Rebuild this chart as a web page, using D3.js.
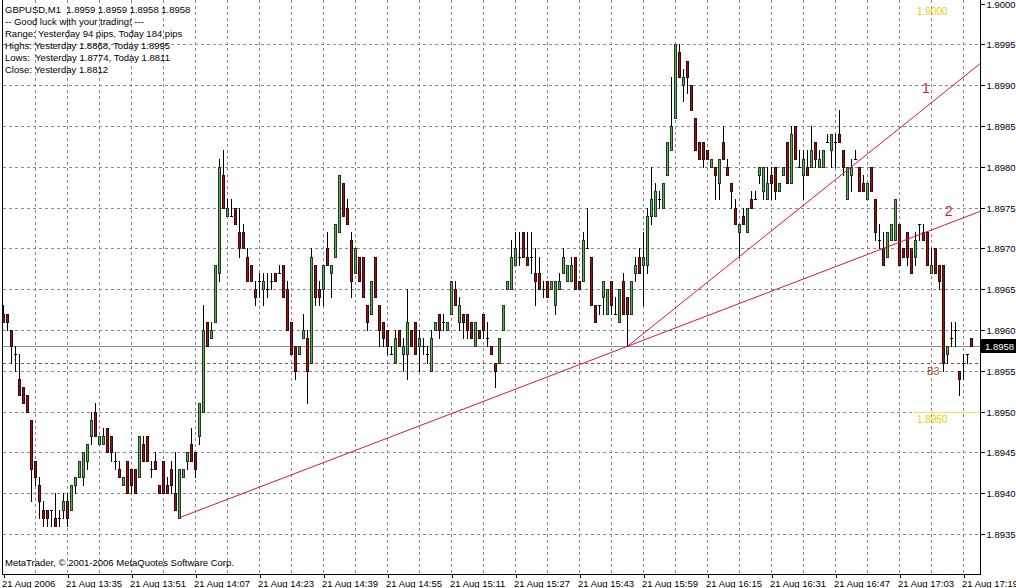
<!DOCTYPE html>
<html>

<head>
    <meta charset="UTF-8">
    <title>GBPUSD,M1</title>
    <script type="text/javascript" src="https://d3js.org/d3.v7.min.js"></script>
    <style>
        body { margin: 0; background: #fff; }
        svg { display: block; font-family: "Liberation Sans", Arial, sans-serif; }
    </style>
</head>

<body>
    <svg id="chart"></svg>

    <script type="text/javascript">
        // ---- data: one row per 1-minute bar, [open, high, low, close] ----
        const candles = [
            [1.8962, 1.8963, 1.8961, 1.8961], [1.8962, 1.8962, 1.8960, 1.8961], [1.8960, 1.8960, 1.8956, 1.8958], [1.8957, 1.8958, 1.8955, 1.8957],
            [1.8954, 1.8957, 1.8952, 1.8952], [1.8953, 1.8953, 1.8951, 1.8951], [1.8952, 1.8952, 1.8950, 1.8950], [1.8949, 1.8949, 1.8939, 1.8943],
            [1.8944, 1.8944, 1.8941, 1.8942], [1.8941, 1.8942, 1.8937, 1.8939], [1.8938, 1.8939, 1.8936, 1.8937], [1.8938, 1.8938, 1.8936, 1.8937],
            [1.8938, 1.8938, 1.8936, 1.8938], [1.8937, 1.8940, 1.8936, 1.8936], [1.8937, 1.8938, 1.8936, 1.8937], [1.8938, 1.8940, 1.8937, 1.8939],
            [1.8939, 1.8940, 1.8936, 1.8937], [1.8938, 1.8941, 1.8938, 1.8941], [1.8941, 1.8942, 1.8940, 1.8942], [1.8942, 1.8944, 1.8942, 1.8944],
            [1.8942, 1.8945, 1.8941, 1.8945], [1.8944, 1.8946, 1.8943, 1.8946], [1.8947, 1.8950, 1.8946, 1.8949], [1.8950, 1.8951, 1.8947, 1.8947],
            [1.8946, 1.8947, 1.8946, 1.8947], [1.8946, 1.8948, 1.8946, 1.8947], [1.8948, 1.8948, 1.8945, 1.8945], [1.8947, 1.8947, 1.8944, 1.8945],
            [1.8944, 1.8945, 1.8943, 1.8944], [1.8943, 1.8944, 1.8942, 1.8942], [1.8941, 1.8942, 1.8941, 1.8942], [1.8944, 1.8944, 1.8940, 1.8940],
            [1.8943, 1.8943, 1.8940, 1.8941], [1.8943, 1.8943, 1.8940, 1.8940], [1.8942, 1.8947, 1.8942, 1.8947], [1.8946, 1.8947, 1.8944, 1.8944],
            [1.8947, 1.8947, 1.8944, 1.8944], [1.8943, 1.8944, 1.8942, 1.8943], [1.8944, 1.8945, 1.8943, 1.8943], [1.8941, 1.8941, 1.8940, 1.8940],
            [1.8944, 1.8944, 1.8940, 1.8940], [1.8941, 1.8942, 1.8940, 1.8940], [1.8943, 1.8944, 1.8940, 1.8941], [1.8940, 1.8945, 1.8938, 1.8938],
            [1.8937, 1.8943, 1.8937, 1.8943], [1.8942, 1.8943, 1.8942, 1.8943], [1.8944, 1.8945, 1.8943, 1.8945], [1.8946, 1.8948, 1.8944, 1.8944],
            [1.8945, 1.8945, 1.8942, 1.8943], [1.8947, 1.8951, 1.8946, 1.8951], [1.8950, 1.8963, 1.8950, 1.8960], [1.8961, 1.8961, 1.8958, 1.8958],
            [1.8959, 1.8961, 1.8959, 1.8960], [1.8961, 1.8968, 1.8961, 1.8968], [1.8967, 1.8981, 1.8966, 1.8980], [1.8979, 1.8982, 1.8975, 1.8975],
            [1.8974, 1.8976, 1.8974, 1.8975], [1.8974, 1.8976, 1.8974, 1.8974], [1.8975, 1.8975, 1.8973, 1.8973], [1.8972, 1.8975, 1.8969, 1.8970],
            [1.8972, 1.8973, 1.8970, 1.8970], [1.8969, 1.8970, 1.8966, 1.8966], [1.8968, 1.8968, 1.8966, 1.8966], [1.8965, 1.8966, 1.8963, 1.8964],
            [1.8966, 1.8967, 1.8964, 1.8966], [1.8965, 1.8967, 1.8963, 1.8966], [1.8965, 1.8967, 1.8964, 1.8965], [1.8966, 1.8967, 1.8965, 1.8966],
            [1.8967, 1.8967, 1.8966, 1.8966], [1.8967, 1.8968, 1.8967, 1.8967], [1.8968, 1.8968, 1.8964, 1.8964], [1.8965, 1.8966, 1.8960, 1.8960],
            [1.8961, 1.8961, 1.8957, 1.8957], [1.8958, 1.8958, 1.8954, 1.8955], [1.8957, 1.8958, 1.8957, 1.8958], [1.8959, 1.8962, 1.8959, 1.8960],
            [1.8959, 1.8960, 1.8951, 1.8955], [1.8956, 1.8970, 1.8956, 1.8969], [1.8968, 1.8968, 1.8963, 1.8964], [1.8965, 1.8966, 1.8963, 1.8964],
            [1.8965, 1.8968, 1.8963, 1.8968], [1.8970, 1.8972, 1.8968, 1.8968], [1.8967, 1.8968, 1.8964, 1.8968], [1.8969, 1.8973, 1.8969, 1.8973],
            [1.8972, 1.8979, 1.8972, 1.8979], [1.8978, 1.8978, 1.8974, 1.8974], [1.8975, 1.8976, 1.8973, 1.8973], [1.8971, 1.8972, 1.8964, 1.8966],
            [1.8967, 1.8970, 1.8967, 1.8970], [1.8969, 1.8969, 1.8966, 1.8966], [1.8969, 1.8969, 1.8964, 1.8964], [1.8963, 1.8963, 1.8960, 1.8961],
            [1.8962, 1.8966, 1.8962, 1.8966], [1.8969, 1.8969, 1.8964, 1.8964], [1.8963, 1.8963, 1.8958, 1.8960], [1.8961, 1.8961, 1.8958, 1.8959],
            [1.8960, 1.8960, 1.8957, 1.8958], [1.8957, 1.8958, 1.8957, 1.8957], [1.8956, 1.8960, 1.8956, 1.8959], [1.8960, 1.8960, 1.8958, 1.8958],
            [1.8957, 1.8959, 1.8955, 1.8958], [1.8957, 1.8965, 1.8954, 1.8961], [1.8960, 1.8960, 1.8958, 1.8958], [1.8961, 1.8961, 1.8957, 1.8957],
            [1.8958, 1.8960, 1.8955, 1.8959], [1.8958, 1.8959, 1.8957, 1.8958], [1.8957, 1.8958, 1.8956, 1.8957], [1.8955, 1.8960, 1.8955, 1.8959],
            [1.8960, 1.8961, 1.8960, 1.8961], [1.8962, 1.8962, 1.8959, 1.8960], [1.8961, 1.8962, 1.8960, 1.8961], [1.8960, 1.8961, 1.8960, 1.8961],
            [1.8962, 1.8966, 1.8962, 1.8966], [1.8965, 1.8966, 1.8963, 1.8963], [1.8961, 1.8964, 1.8960, 1.8963], [1.8962, 1.8962, 1.8959, 1.8961],
            [1.8962, 1.8962, 1.8959, 1.8960], [1.8961, 1.8961, 1.8959, 1.8959], [1.8958, 1.8961, 1.8958, 1.8961], [1.8960, 1.8960, 1.8959, 1.8959],
            [1.8962, 1.8962, 1.8959, 1.8960], [1.8959, 1.8961, 1.8958, 1.8959], [1.8958, 1.8958, 1.8957, 1.8957], [1.8956, 1.8956, 1.8953, 1.8955],
            [1.8956, 1.8959, 1.8956, 1.8959], [1.8960, 1.8963, 1.8960, 1.8963], [1.8965, 1.8966, 1.8965, 1.8966], [1.8965, 1.8971, 1.8965, 1.8969],
            [1.8968, 1.8972, 1.8968, 1.8970], [1.8969, 1.8972, 1.8968, 1.8969], [1.8972, 1.8972, 1.8969, 1.8969], [1.8969, 1.8972, 1.8968, 1.8968],
            [1.8969, 1.8972, 1.8967, 1.8969], [1.8967, 1.8970, 1.8963, 1.8966], [1.8967, 1.8969, 1.8965, 1.8965], [1.8965, 1.8966, 1.8964, 1.8965],
            [1.8966, 1.8966, 1.8964, 1.8964], [1.8965, 1.8966, 1.8965, 1.8966], [1.8963, 1.8966, 1.8962, 1.8966], [1.8965, 1.8967, 1.8965, 1.8966],
            [1.8967, 1.8970, 1.8967, 1.8969], [1.8966, 1.8968, 1.8966, 1.8968], [1.8966, 1.8969, 1.8966, 1.8968], [1.8969, 1.8969, 1.8965, 1.8965],
            [1.8966, 1.8966, 1.8965, 1.8965], [1.8966, 1.8972, 1.8966, 1.8971], [1.8970, 1.8975, 1.8970, 1.8970], [1.8969, 1.8969, 1.8963, 1.8963],
            [1.8963, 1.8963, 1.8961, 1.8961], [1.8963, 1.8963, 1.8962, 1.8963], [1.8964, 1.8966, 1.8962, 1.8966], [1.8962, 1.8965, 1.8962, 1.8965],
            [1.8966, 1.8966, 1.8962, 1.8963], [1.8962, 1.8964, 1.8962, 1.8962], [1.8961, 1.8965, 1.8961, 1.8965], [1.8966, 1.8967, 1.8962, 1.8962],
            [1.8964, 1.8964, 1.8958, 1.8962], [1.8962, 1.8966, 1.8962, 1.8966], [1.8967, 1.8969, 1.8966, 1.8968], [1.8969, 1.8970, 1.8967, 1.8967],
            [1.8968, 1.8972, 1.8963, 1.8969], [1.8968, 1.8975, 1.8967, 1.8974], [1.8974, 1.8980, 1.8973, 1.8976], [1.8974, 1.8978, 1.8974, 1.8977],
            [1.8976, 1.8977, 1.8975, 1.8976], [1.8975, 1.8978, 1.8975, 1.8978], [1.8979, 1.8983, 1.8979, 1.8983], [1.8982, 1.8991, 1.8982, 1.8985],
            [1.8986, 1.8995, 1.8986, 1.8995], [1.8994, 1.8995, 1.8991, 1.8991], [1.8990, 1.8992, 1.8988, 1.8991], [1.8993, 1.8993, 1.8989, 1.8991],
            [1.8990, 1.8990, 1.8987, 1.8987], [1.8986, 1.8986, 1.8982, 1.8982], [1.8983, 1.8983, 1.8981, 1.8981], [1.8983, 1.8983, 1.8980, 1.8981],
            [1.8982, 1.8982, 1.8981, 1.8981], [1.8980, 1.8981, 1.8980, 1.8981], [1.8980, 1.8980, 1.8976, 1.8979], [1.8978, 1.8981, 1.8976, 1.8981],
            [1.8983, 1.8985, 1.8981, 1.8981], [1.8980, 1.8981, 1.8979, 1.8979], [1.8978, 1.8978, 1.8975, 1.8977], [1.8975, 1.8976, 1.8973, 1.8973],
            [1.8972, 1.8973, 1.8969, 1.8973], [1.8974, 1.8975, 1.8973, 1.8973], [1.8972, 1.8975, 1.8972, 1.8975], [1.8976, 1.8977, 1.8975, 1.8975],
            [1.8976, 1.8977, 1.8976, 1.8976], [1.8979, 1.8980, 1.8978, 1.8980], [1.8977, 1.8980, 1.8976, 1.8980], [1.8976, 1.8980, 1.8976, 1.8978],
            [1.8979, 1.8980, 1.8976, 1.8978], [1.8980, 1.8980, 1.8976, 1.8977], [1.8977, 1.8978, 1.8977, 1.8978], [1.8979, 1.8980, 1.8979, 1.8980],
            [1.8983, 1.8983, 1.8978, 1.8978], [1.8978, 1.8985, 1.8978, 1.8984], [1.8985, 1.8985, 1.8981, 1.8981], [1.8980, 1.8982, 1.8980, 1.8980],
            [1.8979, 1.8982, 1.8976, 1.8981], [1.8980, 1.8982, 1.8979, 1.8979], [1.8980, 1.8985, 1.8980, 1.8982], [1.8983, 1.8983, 1.8980, 1.8981],
            [1.8980, 1.8982, 1.8980, 1.8981], [1.8980, 1.8982, 1.8980, 1.8982], [1.8983, 1.8984, 1.8983, 1.8983], [1.8982, 1.8984, 1.8980, 1.8984],
            [1.8983, 1.8984, 1.8980, 1.8983], [1.8984, 1.8987, 1.8983, 1.8983], [1.8982, 1.8982, 1.8979, 1.8980], [1.8976, 1.8980, 1.8976, 1.8980],
            [1.8979, 1.8981, 1.8977, 1.8980], [1.8981, 1.8982, 1.8981, 1.8981], [1.8980, 1.8980, 1.8977, 1.8977], [1.8978, 1.8979, 1.8977, 1.8977],
            [1.8976, 1.8978, 1.8976, 1.8978], [1.8980, 1.8980, 1.8977, 1.8977], [1.8976, 1.8976, 1.8971, 1.8972], [1.8971, 1.8973, 1.8970, 1.8971],
            [1.8970, 1.8972, 1.8968, 1.8968], [1.8969, 1.8972, 1.8969, 1.8972], [1.8971, 1.8973, 1.8971, 1.8973], [1.8971, 1.8976, 1.8971, 1.8976],
            [1.8973, 1.8973, 1.8968, 1.8968], [1.8970, 1.8970, 1.8969, 1.8969], [1.8972, 1.8972, 1.8968, 1.8969], [1.8970, 1.8970, 1.8967, 1.8967],
            [1.8969, 1.8972, 1.8968, 1.8971], [1.8973, 1.8973, 1.8971, 1.8973], [1.8972, 1.8973, 1.8971, 1.8971], [1.8972, 1.8972, 1.8968, 1.8968],
            [1.8967, 1.8970, 1.8967, 1.8968], [1.8970, 1.8970, 1.8967, 1.8967], [1.8968, 1.8968, 1.8965, 1.8966], [1.8968, 1.8968, 1.8955, 1.8956],
            [1.8957, 1.8958, 1.8956, 1.8958], [1.8959, 1.8961, 1.8958, 1.8959], [1.8960, 1.8961, 1.8958, 1.8960], [1.8955, 1.8955, 1.8952, 1.8954],
            [1.8956, 1.8957, 1.8954, 1.8956], [1.8957, 1.8957, 1.8956, 1.8957], [1.8959, 1.8959, 1.8958, 1.8958]
        ];

        // price axis ticks and time axis labels (bar index of each label)
        const priceTicks = [1.9000, 1.8995, 1.8990, 1.8985, 1.8980, 1.8975, 1.8970, 1.8965, 1.8960, 1.8955, 1.8950, 1.8945, 1.8940, 1.8935];
        const timeTickBars = [0, 16, 32, 48, 64, 80, 96, 112, 128, 144, 160, 176, 192, 208, 224, 240];
        const timeLabels = ["21 Aug 2006", "21 Aug 13:35", "21 Aug 13:51", "21 Aug 14:07", "21 Aug 14:23", "21 Aug 14:39",
            "21 Aug 14:55", "21 Aug 15:11", "21 Aug 15:27", "21 Aug 15:43", "21 Aug 15:59", "21 Aug 16:15",
            "21 Aug 16:31", "21 Aug 16:47", "21 Aug 17:03", "21 Aug 17:19"];

        // info block printed top-left
        const infoLines = ["GBPUSD,M1  1.8959 1.8959 1.8958 1.8958", "-- Good luck with your trading! ---",
            "Range: Yesterday 94 pips, Today 184 pips", "Highs: Yesterday 1.8868, Today 1.8995",
            "Lows:  Yesterday 1.8774, Today 1.8811", "Close: Yesterday 1.8812"];
        const copyright = "MetaTrader, \u00a9 2001-2006 MetaQuotes Software Corp.";

        // trend lines: [bar, price] anchors
        const trendLines = [
            { from: [44, 1.8937], to: [156, 1.8958], ray: false },
            { from: [156, 1.8958], to: [184, 1.8969], ray: true },
            { from: [156, 1.8958], to: [244, 1.89745], ray: true }
        ];
        const trendNames = [{ text: "1", bar: 229.6, price: 1.8989 }, { text: "2", bar: 235.3, price: 1.8974 }];

        // horizontal levels
        const bidPrice = 1.8958;
        const levelB3 = 1.8956;
        const yellowLevels = [1.9000, 1.8950];

        // ---- layout ----
        const width = 1016,
            height = 588,
            plotRight = 980,
            plotBottom = 575;

        const svg = d3.select('#chart')
            .attr('width', width)
            .attr('height', height);

        // scales: one bar every 4px
        const x = d3.scaleLinear().domain([0, 243]).range([3.5, 975.5]);
        const y = d3.scaleLinear().domain([1.8930, 1.9000]).range([574.8, 3.5]);
        const py = p => Math.round(y(p)) + 0.5;

        // clip for plot area
        svg.append("clipPath").attr("id", "plotclip")
            .append("rect").attr("x", 3).attr("y", 0).attr("width", plotRight - 3).attr("height", plotBottom);

        // grid
        const grid = svg.append("g").attr("shape-rendering", "crispEdges")
            .attr("stroke", "#888").attr("stroke-dasharray", "3,3");
        grid.selectAll(".vgrid")
            .data(d3.range(8, 244, 8))
            .join("line")
            .attr("x1", d => x(d)).attr("x2", d => x(d))
            .attr("y1", 0).attr("y2", plotBottom);
        grid.selectAll(".hgrid")
            .data(priceTicks.slice(1))
            .join("line")
            .attr("x1", 3).attr("x2", plotRight)
            .attr("y1", d => py(d)).attr("y2", d => py(d));

        // bid line and B3 level
        svg.append("line")
            .attr("x1", 3).attr("x2", plotRight)
            .attr("y1", py(bidPrice)).attr("y2", py(bidPrice))
            .attr("stroke", "#8c8c8c").attr("shape-rendering", "crispEdges");
        svg.append("line")
            .attr("x1", 3).attr("x2", plotRight)
            .attr("y1", py(levelB3)).attr("y2", py(levelB3))
            .attr("stroke", "#a0522d").attr("stroke-dasharray", "3,3").attr("shape-rendering", "crispEdges");
        svg.append("text")
            .attr("x", 927).attr("y", py(levelB3) + 11)
            .attr("fill", "#a0522d").attr("font-size", "10px")
            .text("B3");

        // yellow levels with their labels (the 1.9000 line sits on the top edge)
        yellowLevels.forEach(p => {
            if (p < 1.9) {
                svg.append("line")
                    .attr("x1", 913).attr("x2", plotRight)
                    .attr("y1", py(p)).attr("y2", py(p))
                    .attr("stroke", "#f2e35a").attr("shape-rendering", "crispEdges");
            }
            svg.append("text")
                .attr("x", 917).attr("y", py(p) + 10)
                .attr("fill", "#e6d200").attr("font-size", "10px")
                .text(d3.format(".4f")(p));
        });

        // candles
        const bars = svg.append("g").attr("shape-rendering", "crispEdges");
        const candle = bars.selectAll("g")
            .data(candles)
            .join("g");
        candle.append("line")
            .attr("x1", (d, i) => x(i)).attr("x2", (d, i) => x(i))
            .attr("y1", d => py(d[1]) - 0.5).attr("y2", d => py(d[2]) + 0.5)
            .attr("stroke", "#000");
        candle.each(function (d, i) {
            const g = d3.select(this);
            if (d[0] === d[3]) {
                // doji: short horizontal tick
                g.append("line")
                    .attr("x1", x(i) - 1.5).attr("x2", x(i) + 1.5)
                    .attr("y1", py(d[0])).attr("y2", py(d[0]))
                    .attr("stroke", "#000");
                return;
            }
            const top = py(Math.max(d[0], d[3])),
                bot = py(Math.min(d[0], d[3]));
            g.append("rect")
                .attr("x", x(i) - 1)
                .attr("y", top)
                .attr("width", 2)
                .attr("height", bot - top)
                .attr("fill", d[3] > d[0] ? "#63a863" : "#8b1a1a")
                .attr("stroke", d[3] > d[0] ? "#1d3d1d" : "#3a0808");
        });

        // trend lines
        const priceAt = (t, b) => t.from[1] + (t.to[1] - t.from[1]) / (t.to[0] - t.from[0]) * (b - t.from[0]);
        svg.append("g").attr("clip-path", "url(#plotclip)")
            .selectAll("line")
            .data(trendLines)
            .join("line")
            .attr("x1", d => x(d.from[0])).attr("y1", d => y(d.from[1]))
            .attr("x2", d => x(d.ray ? 246 : d.to[0]))
            .attr("y2", d => y(d.ray ? priceAt(d, 246) : d.to[1]))
            .attr("stroke", "#d4173f").attr("stroke-width", 1);
        svg.selectAll(".tname")
            .data(trendNames)
            .join("text")
            .attr("x", d => x(d.bar)).attr("y", d => y(d.price))
            .attr("fill", "#d4173f").attr("font-size", "14px")
            .text(d => d.text);

        // frame
        const frame = svg.append("g").attr("stroke", "#000").attr("shape-rendering", "crispEdges");
        frame.append("line").attr("x1", 2.5).attr("x2", 2.5).attr("y1", 0).attr("y2", plotBottom);
        frame.append("line").attr("x1", 2).attr("x2", plotRight + 1).attr("y1", plotBottom - 0.5).attr("y2", plotBottom - 0.5);
        frame.append("line").attr("x1", plotRight + 0.5).attr("x2", plotRight + 0.5).attr("y1", 0).attr("y2", plotBottom);

        // price axis
        const rightAxis = d3.axisRight(y)
            .tickValues(priceTicks)
            .tickSize(4)
            .tickPadding(2)
            .tickFormat(d3.format(".4f"));
        const ya = svg.append("g")
            .attr("transform", "translate(" + (plotRight + 0.5) + ",0)")
            .call(rightAxis);
        ya.select(".domain").remove();
        ya.selectAll(".tick").attr("transform", d => "translate(0," + py(d) + ")");
        ya.selectAll("text").attr("font-size", "9.5px").attr("fill", "#000").attr("font-family", null);
        ya.selectAll("line").attr("stroke", "#000").attr("shape-rendering", "crispEdges");

        // bid price box
        svg.append("rect")
            .attr("x", plotRight + 1).attr("y", py(bidPrice) - 7.5)
            .attr("width", width - plotRight - 1).attr("height", 14)
            .attr("fill", "#000");
        svg.append("text")
            .attr("x", plotRight + 5).attr("y", py(bidPrice))
            .attr("dy", "0.32em")
            .attr("fill", "#fff").attr("font-size", "9.5px")
            .text(d3.format(".4f")(bidPrice));

        // time axis
        const bottomAxis = d3.axisBottom(x)
            .tickValues(timeTickBars)
            .tickSize(3)
            .tickPadding(3)
            .tickFormat((d, i) => timeLabels[i]);
        const xa = svg.append("g")
            .attr("transform", "translate(0," + (plotBottom - 0.5) + ")")
            .call(bottomAxis);
        xa.select(".domain").remove();
        xa.selectAll("text")
            .attr("text-anchor", "start")
            .attr("x", -2)
            .attr("font-size", "9.5px").attr("fill", "#000").attr("font-family", null);
        xa.selectAll("line").attr("stroke", "#000").attr("shape-rendering", "crispEdges");

        // info text
        svg.append("g")
            .selectAll("text")
            .data(infoLines)
            .join("text")
            .attr("x", 5)
            .attr("y", (d, i) => 13 + i * 12)
            .attr("font-size", "9.5px")
            .attr("fill", "#000")
            .style("white-space", "pre")
            .text(d => d);
        svg.append("text")
            .attr("x", 5).attr("y", 566)
            .attr("font-size", "9.5px").attr("fill", "#000")
            .text(copyright);
    </script>
</body>

</html>
